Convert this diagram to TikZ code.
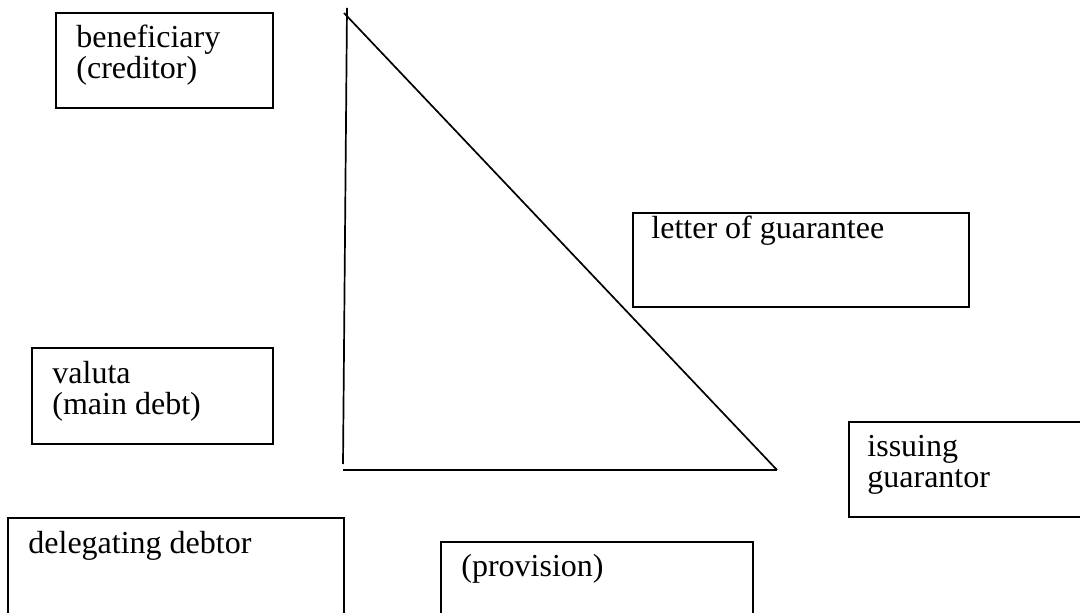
\documentclass[tikz,border=0pt]{standalone}
\usepackage{fontspec}
\setmainfont{Liberation Serif}
\usepackage{tikz}

\begin{document}
\begin{tikzpicture}[
        x=0.5pt, y=-0.5pt,
        every node/.style={font=\fontsize{16pt}{15.5pt}\selectfont},
        party/.style={rectangle, draw=black, line width=1pt, inner sep=0pt},
        caption/.style={anchor=base west, inner sep=0pt, align=left},
        edge/.style={line width=0.85pt, color=black}
    ]
        \clip (0,0) rectangle (1080,613);

        % Parties
        \node[party, minimum width=108.5pt, minimum height=47.5pt] (beneficiary) at (164.5,60.5) {};
        \node[party, minimum width=168pt, minimum height=47pt] (letter) at (801,260) {};
        \node[party, minimum width=120.5pt, minimum height=48pt] (valuta) at (152.5,396) {};
        \node[party, minimum width=125.5pt, minimum height=47.5pt] (guarantor) at (974.5,469.5) {};
        \node[party, minimum width=168pt, minimum height=56pt] (debtor) at (176,574) {};
        \node[party, minimum width=156pt, minimum height=49pt] (provision) at (597,591) {};

        % Labels (base = last line)
        \node[caption] (beneficiarytext) at (76,79) {beneficiary\\(creditor)};
        \node[caption] (lettertext) at (651,239) {letter of guarantee};
        \node[caption] (valutatext) at (52,415) {valuta\\(main debt)};
        \node[caption] (guarantortext) at (867,488) {issuing\\guarantor};
        \node[caption] (debtortext) at (28,553) {delegating debtor};
        \node[caption] (provisiontext) at (461,576) {(provision)};

        % Triangle
        \coordinate (apex) at (347,8);
        \coordinate (slopetop) at (344,13);
        \coordinate (foot) at (343,464);
        \coordinate (baseleft) at (343,470);
        \coordinate (baseright) at (777,470);

        \draw[edge] (apex) -- (foot);
        \draw[edge] (baseleft) -- (baseright);
        \draw[edge] (slopetop) -- (baseright);

    \end{tikzpicture}
\end{document}
